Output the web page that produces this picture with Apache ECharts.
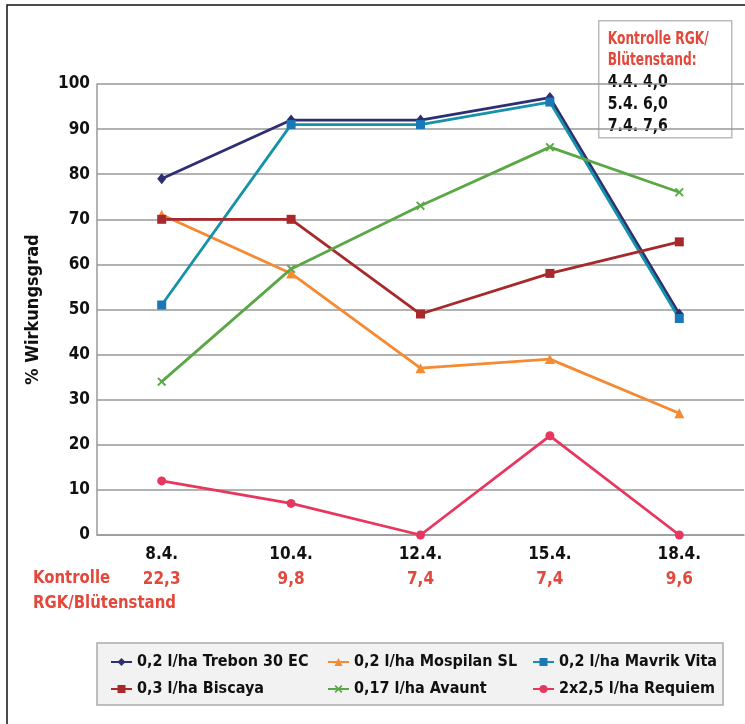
<!DOCTYPE html>
<html>
<head>
<meta charset="utf-8">
<script src="https://cdn.jsdelivr.net/npm/echarts@6/dist/echarts.min.js"></script>
<style>
  html, body { margin: 0; padding: 0; background: #fff; }
  #chart { width: 745px; height: 724px; }
</style>
</head>
<body>
<div id="chart"></div>
<script>
  // Kategorien (Behandlungstermine) und Kontrolle RGK/Blütenstand
  var dates = ['8.4.', '10.4.', '12.4.', '15.4.', '18.4.'];
  var kontrolle = ['22,3', '9,8', '7,4', '7,4', '9,6'];
  var yTicks = [0, 10, 20, 30, 40, 50, 60, 70, 80, 90, 100];

  // Wirkungsgrad in %
  var trebon = [79, 92, 92, 97, 49];
  var mospilan = [71, 58, 37, 39, 27];
  var mavrik = [51, 91, 91, 96, 48];
  var biscaya = [70, 70, 49, 58, 65];
  var avaunt = [34, 59, 73, 86, 76];
  var requiem = [12, 7, 0, 22, 0];

  var boxLines = ['4.4. 4,0', '5.4. 6,0', '7.4. 7,6'];

  var FONT = '"DejaVu Sans Condensed", "Liberation Sans", sans-serif';
  var RED = '#E2483B';
  var X_SYMBOL = 'path://M0,1.5L1.5,0L5,3.5L8.5,0L10,1.5L6.5,5L10,8.5L8.5,10L5,6.5L1.5,10L0,8.5L3.5,5Z';

  function mkSeries(name, data, color, symbol, size, lineColor) {
    return {
      name: name,
      type: 'line',
      data: data,
      symbol: symbol,
      symbolSize: size,
      showSymbol: true,
      itemStyle: { color: color },
      lineStyle: { color: lineColor || color, width: 2.8 },
      emphasis: { disabled: true },
      animation: false
    };
  }

  var legendText = { fontFamily: FONT, fontWeight: 'bold', fontSize: 16, color: '#111' };
  function mkLegend(left, names) {
    return {
      orient: 'vertical',
      left: left,
      top: 654,
      padding: 0,
      itemWidth: 21,
      itemHeight: 10,
      itemGap: 11,
      textStyle: legendText,
      data: names
    };
  }

  var chart = echarts.init(document.getElementById('chart'));
  var option = {
    backgroundColor: '#fff',
    textStyle: { fontFamily: FONT },
    grid: { left: 97, top: 84, width: 647, height: 451 },
    xAxis: {
      type: 'category',
      data: dates,
      boundaryGap: true,
      axisLine: { lineStyle: { color: '#999', width: 1.5 } },
      axisTick: { show: false },
      axisLabel: {
        margin: 7,
        lineHeight: 25,
        formatter: function (v, i) {
          return '{a|' + v + '}\n{b|' + kontrolle[i] + '}';
        },
        rich: {
          a: { fontFamily: FONT, fontWeight: 'bold', fontSize: 17, color: '#111', lineHeight: 25 },
          b: { fontFamily: FONT, fontWeight: 'bold', fontSize: 17, color: RED, lineHeight: 25 }
        }
      }
    },
    yAxis: {
      type: 'value',
      min: 0,
      max: 100,
      interval: 10,
      name: '% Wirkungsgrad',
      nameLocation: 'middle',
      nameGap: 55,
      nameTextStyle: { fontFamily: FONT, fontWeight: 'bold', fontSize: 18, color: '#111' },
      axisLine: { show: true, lineStyle: { color: '#999', width: 1.5 } },
      axisTick: { show: false },
      axisLabel: {
        margin: 7,
        fontFamily: FONT, fontWeight: 'bold', fontSize: 17, color: '#111',
        formatter: function (v) { return yTicks.indexOf(v) >= 0 ? String(v) : ''; }
      },
      splitLine: { lineStyle: { color: '#999', width: 1.5 } }
    },
    legend: [
      mkLegend(110, ['0,2 l/ha Trebon 30 EC', '0,3 l/ha Biscaya']),
      mkLegend(327, ['0,2 l/ha Mospilan SL', '0,17 l/ha Avaunt']),
      mkLegend(532, ['0,2 l/ha Mavrik Vita', '2x2,5 l/ha Requiem'])
    ],
    graphic: [
      // äußerer Rahmen (links und oben sichtbar)
      { type: 'polyline', z: -10, shape: { points: [[7, 724], [7, 5], [745, 5]] },
        style: { fill: null, stroke: '#111', lineWidth: 1.5 } },
      // Legendenkasten
      { type: 'rect', z: -5, shape: { x: 97, y: 643, width: 626, height: 62 },
        style: { fill: '#F2F2F2', stroke: '#AAA', lineWidth: 1.5 } },
      // Kontrolle-Beschriftung unter der Achse
      { type: 'text', left: 33, top: 569, scaleX: 0.92,
        style: { text: 'Kontrolle', fill: RED, font: 'bold 18px ' + FONT } },
      { type: 'text', left: 33, top: 594, scaleX: 0.92,
        style: { text: 'RGK/Blütenstand', fill: RED, font: 'bold 18px ' + FONT } },
      // Infokasten oben rechts
      { type: 'group', left: 598, top: 20, z: 100, children: [
        { type: 'rect', shape: { x: 0, y: 0, width: 133, height: 117 },
          style: { fill: '#fff', stroke: '#BBB', lineWidth: 1.5 } },
        { type: 'text', x: 9, y: 8, scaleX: 0.8,
          style: { text: 'Kontrolle RGK/\nBlütenstand:', fill: RED, font: 'bold 17px ' + FONT, lineHeight: 21 } },
        { type: 'text', x: 9, y: 51, scaleX: 0.92,
          style: { text: boxLines.join('\n'), fill: '#111', font: 'bold 17px ' + FONT, lineHeight: 22 } }
      ] }
    ],
    series: [
      mkSeries('0,2 l/ha Trebon 30 EC', trebon, '#2D2F72', 'diamond', [9, 11]),
      mkSeries('0,2 l/ha Mospilan SL', mospilan, '#F58A33', 'triangle', 10),
      mkSeries('0,2 l/ha Mavrik Vita', mavrik, '#1A78B6', 'rect', 9, '#1592A8'),
      mkSeries('0,3 l/ha Biscaya', biscaya, '#A8292B', 'rect', 9),
      mkSeries('0,17 l/ha Avaunt', avaunt, '#5AA845', X_SYMBOL, 9),
      mkSeries('2x2,5 l/ha Requiem', requiem, '#E8375F', 'circle', 9)
    ]
  };
  chart.setOption(option);
</script>
</body>
</html>
